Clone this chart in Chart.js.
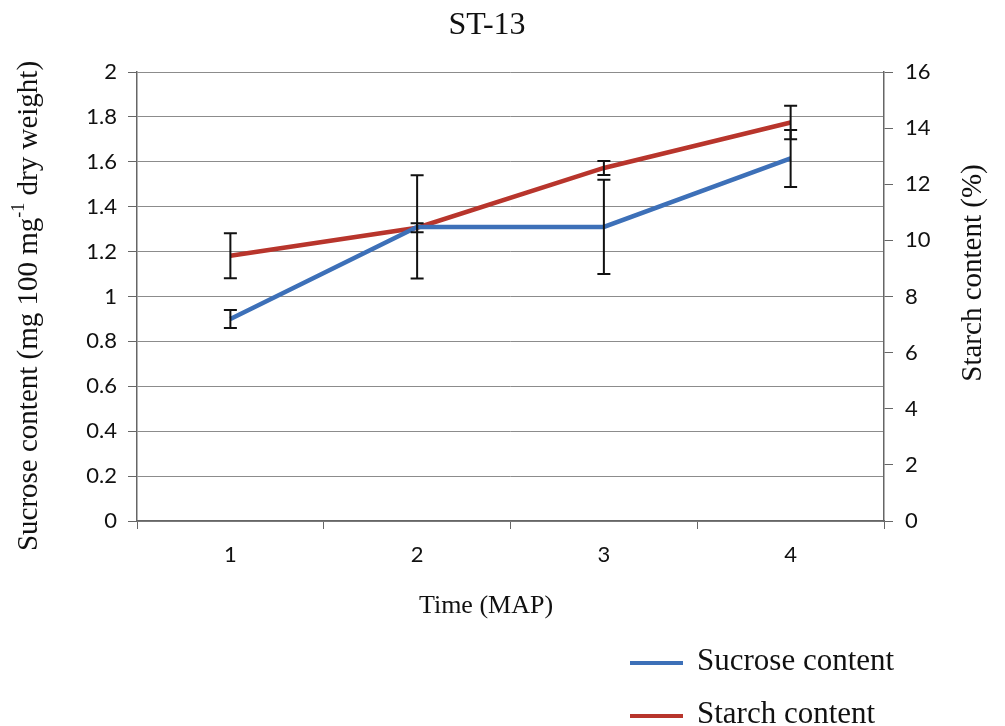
<!DOCTYPE html>
<html>
<head>
<meta charset="utf-8">
<script src="https://cdn.jsdelivr.net/npm/chart.js@4/dist/chart.umd.min.js"></script>
<style>
  html, body { margin: 0; background: #fff; }
  #wrap { width: 1005px; height: 726px; }
</style>
</head>
<body>
<div id="wrap"><canvas id="chart"></canvas></div>
<script>
const months = ['1', '2', '3', '4']
const sucrose = [0.90, 1.31, 1.31, 1.615]
const sucroseSd = [0.04, 0.23, 0.21, 0.127]
const starch = [9.45, 10.45, 12.58, 14.2]
const starchSd = [0.80, 0.16, 0.25, 0.60]

const serif = "'Liberation Serif', 'Times New Roman', serif"
const sans = "Lato, 'Open Sans', sans-serif"
const axisColor = '#666'
const gridColor = '#8c8c8c'
const textColor = '#111'

// vertical error bars with caps, read from dataset.errors
const errorBars = {
  id: 'errorBars',
  afterDatasetsDraw(chart) {
    const ctx = chart.ctx
    ctx.save()
    ctx.strokeStyle = '#111'
    ctx.lineWidth = 2
    chart.data.datasets.forEach((ds, i) => {
      const meta = chart.getDatasetMeta(i)
      const scale = chart.scales[ds.yAxisID]
      meta.data.forEach((pt, j) => {
        const v = ds.data[j], e = ds.errors[j]
        const top = scale.getPixelForValue(v + e)
        const bot = scale.getPixelForValue(v - e)
        ctx.beginPath()
        ctx.moveTo(pt.x, top); ctx.lineTo(pt.x, bot)
        ctx.moveTo(pt.x - 6.5, top); ctx.lineTo(pt.x + 6.5, top)
        ctx.moveTo(pt.x - 6.5, bot); ctx.lineTo(pt.x + 6.5, bot)
        ctx.stroke()
      })
    })
    ctx.restore()
  }
}

// draws a run of [text, superscript?] pieces centred on (0, 0)
function drawRuns(ctx, runs, size) {
  const widths = runs.map(([t, sup]) => {
    ctx.font = (sup ? size * 0.62 : size) + 'px ' + serif
    return ctx.measureText(t).width
  })
  let x = -widths.reduce((a, b) => a + b, 0) / 2
  runs.forEach(([t, sup], k) => {
    ctx.font = (sup ? size * 0.62 : size) + 'px ' + serif
    ctx.fillText(t, x, sup ? -size * 0.35 : 0)
    x += widths[k]
  })
}

// chart title, axis titles and the stacked legend
const labels = {
  id: 'labels',
  afterDraw(chart) {
    const ctx = chart.ctx
    ctx.save()
    ctx.fillStyle = textColor
    ctx.textBaseline = 'middle'
    ctx.textAlign = 'left'

    ctx.save(); ctx.translate(487, 26)
    drawRuns(ctx, [['ST-13']], 32)
    ctx.restore()

    ctx.save(); ctx.translate(486, 606)
    drawRuns(ctx, [['Time (MAP)']], 26)
    ctx.restore()

    ctx.save(); ctx.translate(29, 306); ctx.rotate(-Math.PI / 2)
    drawRuns(ctx, [['Sucrose content (mg 100 mg'], ['-1', true], [' dry weight)']], 29)
    ctx.restore()

    ctx.save(); ctx.translate(973, 273); ctx.rotate(-Math.PI / 2)
    drawRuns(ctx, [['Starch content (%)']], 29)
    ctx.restore()

    ctx.font = '31px ' + serif
    chart.data.datasets.forEach((ds, i) => {
      const y = 663 + i * 53
      ctx.strokeStyle = ds.borderColor
      ctx.lineWidth = 4
      ctx.beginPath()
      ctx.moveTo(630, y); ctx.lineTo(683, y)
      ctx.stroke()
      ctx.fillText(ds.label, 697, y - 1)
    })
    ctx.restore()
  }
}

new Chart(document.getElementById('chart'), {
  type: 'line',
  data: {
    labels: months,
    datasets: [{
      label: 'Sucrose content',
      data: sucrose,
      errors: sucroseSd,
      yAxisID: 'y',
      borderColor: '#3d70b8',
      borderWidth: 4.5,
      pointRadius: 0,
      tension: 0
    }, {
      label: 'Starch content',
      data: starch,
      errors: starchSd,
      yAxisID: 'y1',
      borderColor: '#b8352c',
      borderWidth: 4.5,
      pointRadius: 0,
      tension: 0
    }]
  },
  options: {
    responsive: true,
    maintainAspectRatio: false,
    animation: false,
    layout: { padding: { top: 72, left: 0, right: 0, bottom: 90 } },
    plugins: {
      legend: { display: false },
      tooltip: { enabled: false },
      title: { display: false }
    },
    scales: {
      x: {
        offset: true,
        grid: { drawOnChartArea: false, offset: true, tickLength: 8, color: axisColor },
        border: { color: axisColor, width: 1.5 },
        ticks: { color: textColor, padding: 13, font: { family: sans, size: 22 } },
        afterFit(s) { s.height = 115 }
      },
      y: {
        position: 'left',
        min: 0,
        max: 2,
        grid: { color: gridColor, tickColor: axisColor, tickLength: 9 },
        border: { color: axisColor, width: 1.5 },
        ticks: {
          stepSize: 0.2,
          color: textColor,
          padding: 11,
          font: { family: sans, size: 22 },
          callback: v => String(+v.toFixed(1))
        },
        afterFit(s) { s.width = 137 }
      },
      y1: {
        position: 'right',
        min: 0,
        max: 16,
        grid: { drawOnChartArea: false, tickColor: axisColor, tickLength: 9 },
        border: { color: axisColor, width: 1.5 },
        ticks: { stepSize: 2, color: textColor, padding: 12, font: { family: sans, size: 22 } },
        afterFit(s) { s.width = 121 }
      }
    }
  },
  plugins: [errorBars, labels]
})
</script>
</body>
</html>
